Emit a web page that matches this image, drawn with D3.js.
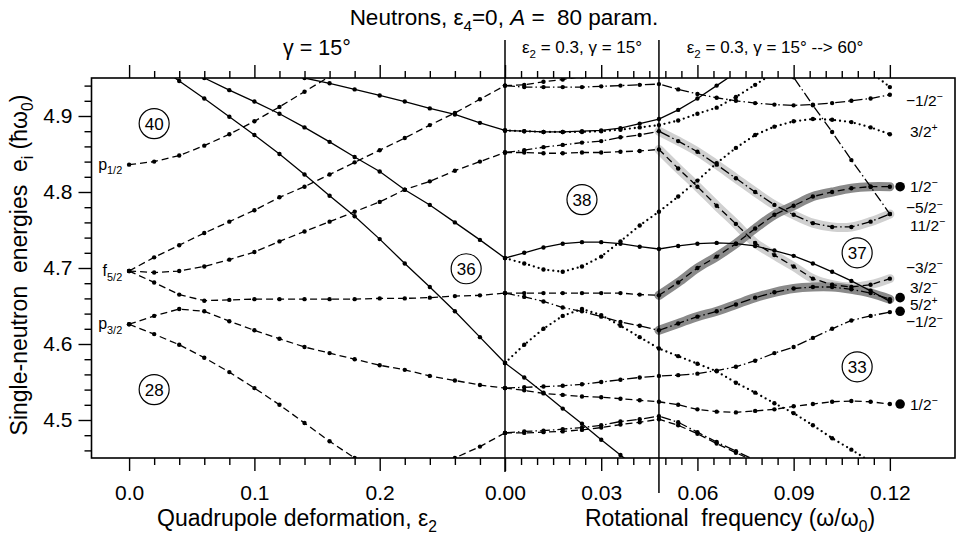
<!DOCTYPE html>
<html>
<head>
<meta charset="utf-8">
<script src="https://d3js.org/d3.v7.min.js"></script>
<style>
  body { margin: 0; background: #fff; }
  svg { font-family: "Liberation Sans", Arial, Helvetica, sans-serif; }
  text { white-space: pre; }
</style>
</head>
<body>
<svg id="chart" width="956" height="535"></svg>
<script>
// grid of the calculation
const epsSteps = [0.00, 0.02, 0.04, 0.06, 0.08, 0.10, 0.12, 0.14, 0.16, 0.18, 0.20, 0.22, 0.24, 0.26, 0.28, 0.30];
const omegaSteps = [0.000, 0.006, 0.012, 0.018, 0.024, 0.030, 0.036, 0.042, 0.048, 0.054, 0.060,
                    0.066, 0.072, 0.078, 0.084, 0.090, 0.096, 0.102, 0.108, 0.114, 0.120];

// deformation panel, energies at each eps step (null = not drawn)
const p12Level   = [4.836, 4.840, 4.848, 4.861, 4.876, 4.893, 4.912, 4.932, 4.952, null, null, null, null, null, null, null];
const f52Up      = [4.696, 4.714, 4.730, 4.746, 4.761, 4.776, 4.793, 4.807, 4.823, 4.839, 4.855, 4.871, 4.888, 4.904, 4.922, 4.940];
const f52Mid     = [4.696, 4.694, 4.696, 4.702, 4.711, 4.721, 4.735, 4.748, 4.761, 4.774, 4.787, 4.803, 4.814, 4.828, 4.840, 4.852];
const f52Down    = [4.696, 4.681, 4.665, 4.657, 4.658, 4.659, 4.659, 4.659, 4.659, 4.659, 4.660, 4.660, 4.661, 4.663, 4.664, 4.667];
const p32Up      = [4.626, 4.637, 4.646, 4.643, 4.630, 4.618, 4.607, 4.596, 4.588, 4.580, 4.572, 4.566, 4.558, 4.552, 4.546, 4.542];
const p32Down    = [4.626, 4.613, 4.599, 4.582, 4.563, 4.542, 4.520, 4.496, 4.472, 4.450, 4.427, null, null, null, null, null];
const fromBelow  = [null, null, null, null, null, null, null, null, null, null, null, null, 4.433, 4.450, 4.465, 4.483];
const g92a       = [null, 4.970, 4.946, 4.923, 4.899, 4.875, 4.850, 4.823, 4.795, 4.768, 4.738, 4.706, 4.675, 4.643, 4.609, 4.575];
const g92b       = [null, null, 4.965, 4.950, 4.934, 4.919, 4.903, 4.885, 4.866, 4.846, 4.827, 4.803, 4.783, 4.760, 4.737, 4.713];
const g92c       = [null, null, null, null, null, null, 4.957, 4.950, 4.943, 4.935, 4.927, 4.919, 4.910, 4.902, 4.891, 4.881];

// rotation panels, energies at each omega step
const r1Dash   = [4.940, 4.941, 4.945, 4.948, 4.952, null, null, null, null, null, null, null, null, null, null, null, null, null, null, null, null];
const r1DDot   = [4.940, 4.938, 4.938, 4.938, 4.938, 4.939, 4.940, 4.941, 4.942, 4.935, 4.929, 4.924, 4.920, 4.917, 4.915, 4.914, 4.915, 4.917, 4.920, 4.923, 4.928];
const r2Solid  = [4.881, 4.880, 4.879, 4.879, 4.880, 4.881, 4.884, 4.890, 4.896, 4.908, 4.923, 4.940, 4.957, null, null, null, null, null, null, null, null];
const r2Dot    = [4.881, 4.880, 4.879, 4.879, 4.879, 4.880, 4.882, 4.885, 4.888, 4.894, 4.903, 4.911, 4.925, 4.941, 4.957, null, null, null, null, null, null];
const r3Dash   = [4.852, 4.852, 4.851, 4.851, 4.852, 4.852, 4.853, 4.854, 4.856, 4.831, 4.807, 4.782, 4.758, 4.733, 4.717, 4.702, 4.686, 4.678, 4.675, 4.678, 4.686];
const r3DDot   = [4.852, 4.855, 4.859, 4.862, 4.865, 4.867, 4.872, 4.875, 4.880, 4.867, 4.853, 4.836, 4.818, 4.800, 4.783, 4.770, 4.759, 4.754, 4.754, 4.761, 4.771];
const r4Solid  = [4.713, 4.720, 4.727, 4.732, 4.734, 4.734, 4.732, 4.728, 4.725, 4.729, 4.732, 4.733, 4.732, 4.729, 4.723, 4.716, 4.706, 4.695, 4.683, 4.670, 4.656];
const r4Dot    = [4.713, 4.706, 4.698, 4.695, 4.702, 4.715, 4.735, 4.756, 4.774, 4.794, 4.815, 4.838, 4.858, 4.875, 4.886, 4.893, 4.896, 4.895, 4.892, 4.885, 4.876];
const r5Dash   = [4.667, 4.667, 4.667, 4.667, 4.667, 4.667, 4.667, 4.665, 4.664, 4.681, 4.700, 4.715, 4.732, 4.752, 4.770, 4.782, 4.794, 4.800, 4.805, 4.807, 4.807];
const r5DDot   = [4.667, 4.662, 4.656, 4.648, 4.643, 4.636, 4.629, 4.624, 4.618, 4.627, 4.636, 4.643, 4.652, 4.661, 4.668, 4.673, 4.675, 4.675, 4.672, 4.667, 4.659];
const r6Solid  = [4.575, 4.556, 4.536, 4.515, 4.495, 4.474, 4.454, 4.433, null, null, null, null, null, null, null, null, null, null, null, null, null];
const r6Dot    = [4.575, 4.599, 4.620, 4.637, 4.646, 4.638, 4.624, 4.609, 4.594, 4.584, 4.574, 4.564, 4.549, 4.536, 4.522, 4.509, 4.493, 4.476, 4.461, 4.445, null];
const r7Dash   = [4.542, 4.539, 4.535, 4.533, 4.531, 4.530, 4.528, 4.526, 4.524, 4.520, 4.514, 4.511, 4.510, 4.512, 4.514, 4.518, 4.521, 4.524, 4.525, 4.524, 4.521];
const r7DDot   = [4.542, 4.543, 4.544, 4.545, 4.547, 4.550, 4.553, 4.556, 4.558, 4.559, 4.561, 4.565, 4.570, 4.578, 4.588, 4.596, 4.608, 4.620, 4.631, 4.637, 4.642];
const r8DDot   = [4.483, 4.485, 4.486, 4.488, 4.490, 4.493, 4.498, 4.501, 4.505, 4.497, 4.484, 4.471, 4.459, 4.447, null, null, null, null, null, null, null];
const r8Dash   = [4.483, 4.483, 4.484, 4.485, 4.487, 4.490, 4.494, 4.497, 4.501, 4.493, 4.482, 4.469, 4.457, 4.445, null, null, null, null, null, null, null];
const h112DDot = [null, null, null, null, null, null, null, null, null, null, null, null, null, null, 4.987, 4.951, 4.914, 4.879, 4.842, 4.807, 4.771];
const topDot   = [null, null, null, null, null, null, null, null, null, null, null, null, null, null, null, null, null, null, 4.978, 4.958, 4.938];

// annotations
const bigDotOmega = 0.1232;
const bigDotEnergies = [4.807, 4.661, 4.643, 4.521];
const endLabels = [
  { text: '−1/2', sup: '−', e: 4.921 }, { text: '3/2', sup: '+', e: 4.880 },
  { text: '1/2', sup: '−', e: 4.807 }, { text: '−5/2', sup: '−', e: 4.779 },
  { text: '11/2', sup: '−', e: 4.756 }, { text: '−3/2', sup: '−', e: 4.701 },
  { text: '3/2', sup: '−', e: 4.675 }, { text: '5/2', sup: '+', e: 4.652 },
  { text: '−1/2', sup: '−', e: 4.629 }, { text: '1/2', sup: '−', e: 4.521 }
];
const shellGaps = [
  { n: 40, panel: 'eps', at: 0.020, e: 4.890 }, { n: 28, panel: 'eps', at: 0.020, e: 4.540 },
  { n: 36, panel: 'eps', at: 0.269, e: 4.699 }, { n: 38, panel: 'om', at: 0.024, e: 4.790 },
  { n: 37, panel: 'om', at: 0.1098, e: 4.720 }, { n: 33, panel: 'om', at: 0.1098, e: 4.570 }
];
const sphLabels = [
  { l: 'p', j: '1/2', e: 4.836 }, { l: 'f', j: '5/2', e: 4.696 }, { l: 'p', j: '3/2', e: 4.626 }
];
const yTicks = [4.5, 4.6, 4.7, 4.8, 4.9];
const epsTicks = [0.0, 0.1, 0.2];
const omTicks = [0.00, 0.03, 0.06, 0.09, 0.12];

const deformCurves = [
  { e: p12Level, style: 'dashed' }, { e: f52Up, style: 'dashed' }, { e: f52Mid, style: 'dashed' },
  { e: f52Down, style: 'dashed' }, { e: p32Up, style: 'dashed' }, { e: p32Down, style: 'dashed' },
  { e: fromBelow, style: 'dashed' }, { e: g92a, style: 'solid' }, { e: g92b, style: 'solid' },
  { e: g92c, style: 'solid' }
];
const rotCurves = [
  { e: r1Dash, style: 'dashed' }, { e: r1DDot, style: 'dashdot' },
  { e: r2Solid, style: 'solid' }, { e: r2Dot, style: 'dotted' },
  { e: r3Dash, style: 'dashed', band: 'light' }, { e: r3DDot, style: 'dashdot', band: 'light' },
  { e: r4Solid, style: 'solid' }, { e: r4Dot, style: 'dotted' },
  { e: r5Dash, style: 'dashed', band: 'dark' }, { e: r5DDot, style: 'dashdot', band: 'dark' },
  { e: r6Solid, style: 'solid' }, { e: r6Dot, style: 'dotted' },
  { e: r7Dash, style: 'dashed' }, { e: r7DDot, style: 'dashdot' },
  { e: r8DDot, style: 'dashdot' }, { e: r8Dash, style: 'dashed' },
  { e: h112DDot, style: 'dashdot' }, { e: topDot, style: 'dotted' }
];
const bandFrom = 0.048;

// layout
const frame = { left: 91.5, right: 955, top: 78, bottom: 458 };
const y = d3.scaleLinear().domain([4.45, 4.95]).range([frame.bottom, frame.top]);
const xEps = d3.scaleLinear().domain([-0.03, 0.30]).range([frame.left, 505]);
const xOm = d3.scaleLinear().domain([0, 0.14]).range([505, 954]);

const dashes = { solid: null, dashed: '7,4', dashdot: '10,3,1.5,3', dotted: '0,5' };

const svg = d3.select('#chart');
svg.append('defs').append('clipPath').attr('id', 'plotclip')
  .append('rect')
  .attr('x', frame.left).attr('y', frame.top)
  .attr('width', frame.right - frame.left).attr('height', frame.bottom - frame.top);

const plot = svg.append('g').attr('clip-path', 'url(#plotclip)');

function toPoints(steps, arr) {
  return steps.map((s, i) => ({ s: s, e: arr[i] }));
}

const lineEps = d3.line().defined(d => d.e != null).x(d => xEps(d.s)).y(d => y(d.e));
const lineOm = d3.line().defined(d => d.e != null).x(d => xOm(d.s)).y(d => y(d.e));
const bandLine = d3.line().defined(d => d.e != null).x(d => xOm(d.s)).y(d => y(d.e)).curve(d3.curveCatmullRom);

// grey bands first
['light', 'dark'].forEach(kind => {
  rotCurves.filter(c => c.band === kind).forEach(c => {
    const pts = toPoints(omegaSteps, c.e).filter(d => d.s >= bandFrom - 1e-9);
    plot.append('path')
      .attr('d', bandLine(pts))
      .attr('fill', 'none')
      .attr('stroke', kind === 'light' ? '#d0d0d0' : '#8a8a8a')
      .attr('stroke-width', 9)
      .attr('stroke-linecap', 'round');
  });
});

function drawCurve(pts, style, line) {
  const isDot = style === 'dotted';
  plot.append('path')
    .attr('d', line(pts))
    .attr('fill', 'none')
    .attr('stroke', '#000')
    .attr('stroke-width', isDot ? 2.3 : 1.3)
    .attr('stroke-linecap', isDot ? 'round' : 'butt')
    .attr('stroke-dasharray', dashes[style]);
}

deformCurves.forEach(c => drawCurve(toPoints(epsSteps, c.e), c.style, lineEps));
rotCurves.forEach(c => drawCurve(toPoints(omegaSteps, c.e), c.style, lineOm));

// calculated points
const dotData = [];
deformCurves.forEach(c => toPoints(epsSteps, c.e).forEach(d => { if (d.e != null) dotData.push([xEps(d.s), y(d.e)]); }));
rotCurves.forEach(c => toPoints(omegaSteps, c.e).forEach(d => { if (d.e != null) dotData.push([xOm(d.s), y(d.e)]); }));
plot.append('g').selectAll('circle')
  .data(dotData)
  .enter()
  .append('circle')
  .attr('cx', d => d[0])
  .attr('cy', d => d[1])
  .attr('r', 2.2)
  .attr('fill', '#000');

plot.append('g').selectAll('circle')
  .data(bigDotEnergies)
  .enter()
  .append('circle')
  .attr('cx', xOm(bigDotOmega))
  .attr('cy', d => y(d))
  .attr('r', 4.8)
  .attr('fill', '#000');

// rich text helper: parts are strings or [string, kind]
function richText(g, x, yy, parts, size, anchor) {
  const t = g.append('text')
    .attr('x', x).attr('y', yy)
    .attr('font-size', size)
    .attr('text-anchor', anchor || 'start')
    .attr('xml:space', 'preserve')
    .attr('fill', '#000');
  let off = 0;
  parts.forEach(p => {
    const str = Array.isArray(p) ? p[0] : p;
    const kind = Array.isArray(p) ? p[1] : '';
    let target = 0;
    if (kind === 'sub') target = size * 0.28;
    if (kind === 'sup') target = -size * 0.38;
    const ts = t.append('tspan').text(str).attr('dy', target - off);
    off = target;
    if (kind === 'sub' || kind === 'sup') ts.attr('font-size', size * 0.68);
    if (kind === 'it') ts.attr('font-style', 'italic');
  });
  return t;
}

// labels inside the plot
sphLabels.forEach(s => {
  richText(svg, xEps(-0.0055), y(s.e) + 5, [s.l, [s.j, 'sub']], 16, 'end');
});

shellGaps.forEach(c => {
  const cx = c.panel === 'eps' ? xEps(c.at) : xOm(c.at);
  const cy = y(c.e);
  svg.append('circle').attr('cx', cx).attr('cy', cy).attr('r', 15)
    .attr('fill', 'none').attr('stroke', '#000').attr('stroke-width', 1.2);
  svg.append('text').attr('x', cx).attr('y', cy + 6)
    .attr('text-anchor', 'middle').attr('font-size', 17).text(c.n);
});

endLabels.forEach(l => {
  const x0 = l.text.startsWith('−') ? 906 : 910;
  richText(svg, x0, y(l.e) + 5.5, [l.text, [l.sup, 'sup']], 15.5, 'start');
});

// frame, dividers
svg.append('rect')
  .attr('x', frame.left).attr('y', frame.top)
  .attr('width', frame.right - frame.left).attr('height', frame.bottom - frame.top)
  .attr('fill', 'none').attr('stroke', '#000').attr('stroke-width', 1.6);

svg.append('line').attr('x1', xOm(0)).attr('x2', xOm(0)).attr('y1', 40).attr('y2', 472)
  .attr('stroke', '#000').attr('stroke-width', 1.5);
svg.append('line').attr('x1', xOm(bandFrom)).attr('x2', xOm(bandFrom)).attr('y1', 40).attr('y2', 493)
  .attr('stroke', '#000').attr('stroke-width', 1.5);

// axes
function styleAxis(g) {
  g.select('.domain').remove();
  g.selectAll('line').attr('stroke', '#000').attr('stroke-width', 1.4);
  g.selectAll('text').attr('font-size', 21).attr('fill', '#000')
    .attr('font-family', '"Liberation Sans", Arial, sans-serif');
}

const epsMinor = [0.02, 0.04, 0.06, 0.08, 0.12, 0.14, 0.16, 0.18, 0.22, 0.24, 0.26, 0.28];
const omMinor = [0.005, 0.010, 0.015, 0.020, 0.025, 0.035, 0.040, 0.045, 0.050, 0.055,
                 0.065, 0.070, 0.075, 0.080, 0.085, 0.095, 0.100, 0.105, 0.110, 0.115];
const yMinor = [4.46, 4.48, 4.52, 4.54, 4.56, 4.58, 4.62, 4.64, 4.66, 4.68,
                4.72, 4.74, 4.76, 4.78, 4.82, 4.84, 4.86, 4.88, 4.92, 4.94];

svg.append('g').attr('transform', `translate(0,${frame.bottom})`)
  .call(d3.axisBottom(xEps).tickValues(epsMinor).tickSize(7).tickFormat(''))
  .call(styleAxis);
svg.append('g').attr('transform', `translate(0,${frame.bottom})`)
  .call(d3.axisBottom(xEps).tickValues(epsTicks).tickSize(13).tickPadding(14).tickFormat(d3.format('.1f')))
  .call(styleAxis);
svg.append('g').attr('transform', `translate(0,${frame.top})`)
  .call(d3.axisTop(xEps).tickValues(epsMinor).tickSize(7).tickFormat(''))
  .call(styleAxis);
svg.append('g').attr('transform', `translate(0,${frame.top})`)
  .call(d3.axisTop(xEps).tickValues(epsTicks).tickSize(13).tickFormat(''))
  .call(styleAxis);

svg.append('g').attr('transform', `translate(0,${frame.bottom})`)
  .call(d3.axisBottom(xOm).tickValues(omMinor).tickSize(7).tickFormat(''))
  .call(styleAxis);
svg.append('g').attr('transform', `translate(0,${frame.bottom})`)
  .call(d3.axisBottom(xOm).tickValues(omTicks).tickSize(13).tickPadding(14).tickFormat(d3.format('.2f')))
  .call(styleAxis);
svg.append('g').attr('transform', `translate(0,${frame.top})`)
  .call(d3.axisTop(xOm).tickValues(omMinor).tickSize(7).tickFormat(''))
  .call(styleAxis);
svg.append('g').attr('transform', `translate(0,${frame.top})`)
  .call(d3.axisTop(xOm).tickValues(omTicks).tickSize(13).tickFormat(''))
  .call(styleAxis);

svg.append('g').attr('transform', `translate(${frame.left},0)`)
  .call(d3.axisLeft(y).tickValues(yMinor).tickSize(7).tickFormat(''))
  .call(styleAxis);
svg.append('g').attr('transform', `translate(${frame.left},0)`)
  .call(d3.axisLeft(y).tickValues(yTicks).tickSize(13).tickPadding(6).tickFormat(d3.format('.1f')))
  .call(styleAxis);

// titles
richText(svg, 504, 25, ['Neutrons, ε', ['4', 'sub'], '=0, ', ['A', 'it'], ' =  80 param.'], 22.5, 'middle');
richText(svg, 317, 55, ['γ = 15°'], 21.5, 'middle');
richText(svg, 582, 53, ['ε', ['2', 'sub'], ' = 0.3, γ = 15°'], 17, 'middle');
richText(svg, 775, 53, ['ε', ['2', 'sub'], ' = 0.3, γ = 15° --> 60°'], 17, 'middle');

richText(svg, 297, 526, ['Quadrupole deformation, ε', ['2', 'sub']], 23, 'middle');
richText(svg, 730, 526, ['Rotational  frequency (ω/ω', ['0', 'sub'], ')'], 23, 'middle');

const yTitle = svg.append('g').attr('transform', 'translate(27,265) rotate(-90)');
richText(yTitle, 0, 0, ['Single-neutron  energies  e', ['i', 'sub'], ' (ħω', ['0', 'sub'], ')'], 23, 'middle');
</script>
</body>
</html>
